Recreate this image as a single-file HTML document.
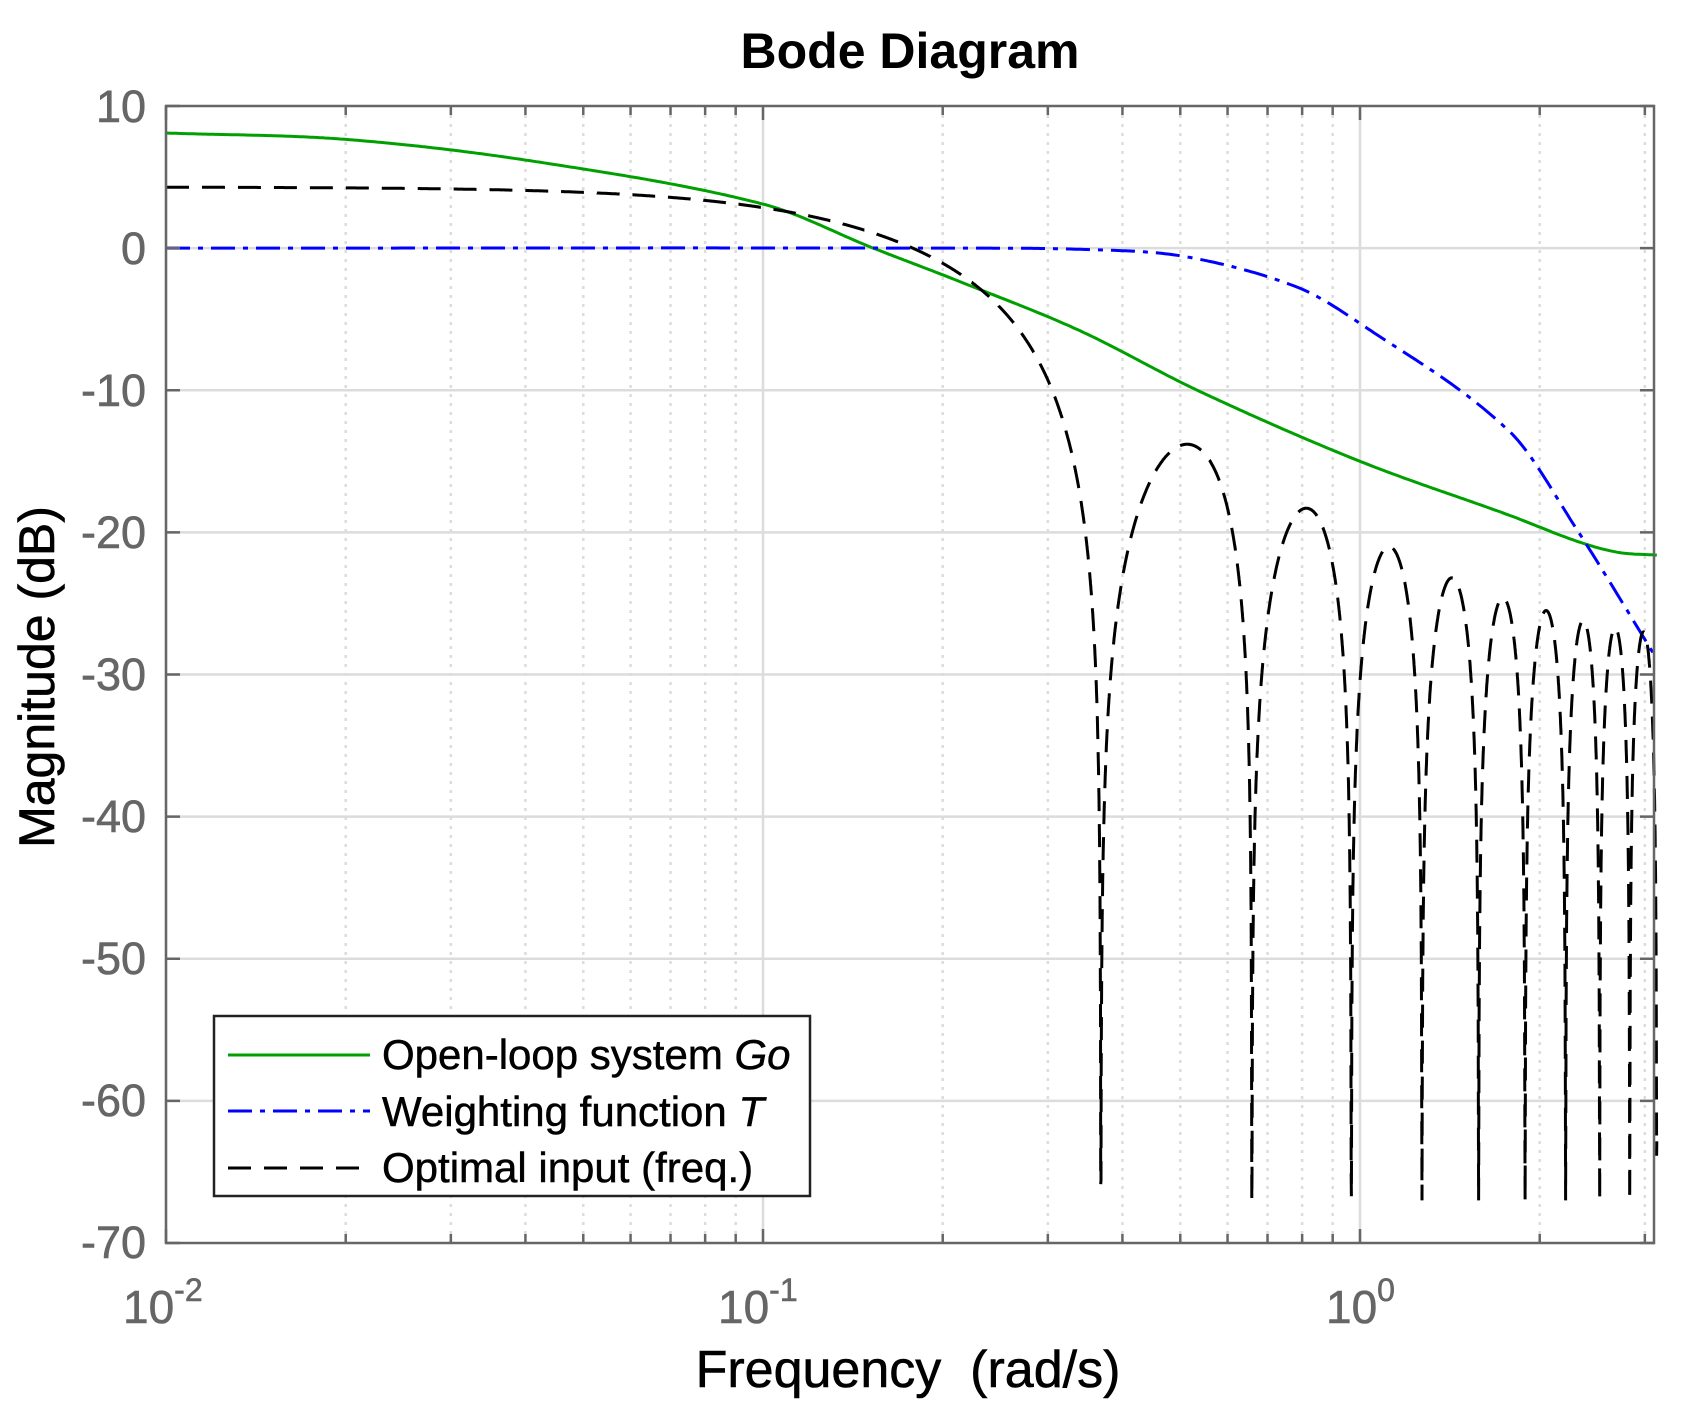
<!DOCTYPE html>
<html><head><meta charset="utf-8"><style>
html,body{margin:0;padding:0;background:#fff;}
svg{display:block;font-family:"Liberation Sans",Arial,sans-serif;}
</style></head><body>
<svg id="s" width="1691" height="1414" viewBox="0 0 1691 1414" xmlns="http://www.w3.org/2000/svg">
<rect width="1691" height="1414" fill="#fff"/>
<g id="grid"></g>
<g id="curves" fill="none"></g>
<rect x="166" y="106" width="1488" height="1137" fill="none" stroke="#666" stroke-width="2.5"/>
<g id="ticks" stroke="#666" stroke-width="2.5"></g>
<text x="910" y="68" font-size="50" font-weight="bold" text-anchor="middle" fill="#000">Bode Diagram</text>
<g font-size="45" fill="#666" text-anchor="end" stroke="#666" stroke-width="0.6">
<text x="146" y="122">10</text>
<text x="146" y="264">0</text>
<text x="146" y="406">-10</text>
<text x="146" y="548">-20</text>
<text x="146" y="690">-30</text>
<text x="146" y="832">-40</text>
<text x="146" y="974">-50</text>
<text x="146" y="1116">-60</text>
<text x="146" y="1258">-70</text>
</g>
<g font-size="46" fill="#666" stroke="#666" stroke-width="0.6">
<text x="123" y="1323">10<tspan font-size="32" dy="-22">-2</tspan></text>
<text x="718" y="1323">10<tspan font-size="32" dy="-22">-1</tspan></text>
<text x="1326" y="1323">10<tspan font-size="32" dy="-22">0</tspan></text>
</g>
<text x="908" y="1387" font-size="52" text-anchor="middle" fill="#000" stroke="#000" stroke-width="0.6" xml:space="preserve">Frequency  (rad/s)</text>
<text transform="translate(54,677) rotate(-90)" font-size="50" text-anchor="middle" fill="#000" stroke="#000" stroke-width="0.6">Magnitude (dB)</text>
<rect x="214" y="1016" width="596" height="180" fill="#fff" stroke="#222" stroke-width="2.5"/>
<line x1="228" y1="1055" x2="370" y2="1055" stroke="#00a000" stroke-width="3"/>
<line x1="228" y1="1111" x2="370" y2="1111" stroke="#0000ff" stroke-width="3" stroke-dasharray="24,8,5,8"/>
<line x1="228" y1="1168" x2="370" y2="1168" stroke="#000" stroke-width="3" stroke-dasharray="23,13"/>
<g font-size="42" fill="#000" stroke="#000" stroke-width="0.5">
<text x="382" y="1069">Open-loop system <tspan font-style="italic">Go</tspan></text>
<text x="382" y="1126">Weighting function <tspan font-style="italic">T</tspan></text>
<text x="382" y="1182">Optimal input (freq.)</text>
</g>
</svg>
<script>
const L=166,R=1654,T=106,B=1243,D=597;
const X=w=>L+(Math.log10(w)+2)*D;
const Y=db=>T+(10-db)*(B-T)/80;
const ns="http://www.w3.org/2000/svg";
function el(p,t,a){const e=document.createElementNS(ns,t);for(const k in a)e.setAttribute(k,a[k]);p.appendChild(e);return e;}
const g=document.getElementById('grid'),tk=document.getElementById('ticks');
for(let db=-60;db<=0;db+=10){el(g,'line',{x1:L,x2:R,y1:Y(db),y2:Y(db),stroke:'#dcdcdc','stroke-width':2.5});}
for(let db=-70;db<=10;db+=10){el(tk,'line',{x1:L,x2:L+14,y1:Y(db),y2:Y(db)});el(tk,'line',{x1:R-14,x2:R,y1:Y(db),y2:Y(db)});}
for(let e=-2;e<=0;e++)for(let m=1;m<=9;m++){const w=m*Math.pow(10,e);if(w>Math.PI)break;const x=X(w);
 if(m==1){el(g,'line',{x1:x,x2:x,y1:T,y2:B,stroke:'#dcdcdc','stroke-width':2.5});el(tk,'line',{x1:x,x2:x,y1:B-14,y2:B});el(tk,'line',{x1:x,x2:x,y1:T,y2:T+14});}
 else{el(g,'line',{x1:x,x2:x,y1:T,y2:B,stroke:'#dcdcdc','stroke-width':2.5,'stroke-dasharray':'3,6'});el(tk,'line',{x1:x,x2:x,y1:B-9,y2:B});el(tk,'line',{x1:x,x2:x,y1:T,y2:T+9});}
}
function interp(pts,w){const lw=Math.log10(w);const xs=pts.map(p=>Math.log10(p[0])),ys=pts.map(p=>p[1]);const n=xs.length;
 let i=0;while(i<n-2&&lw>xs[i+1])i++;
 const sl=k=>{if(k==0)return (ys[1]-ys[0])/(xs[1]-xs[0]);if(k==n-1)return (ys[n-1]-ys[n-2])/(xs[n-1]-xs[n-2]);return (ys[k+1]-ys[k-1])/(xs[k+1]-xs[k-1]);};
 const h=xs[i+1]-xs[i],t=Math.min(1,Math.max(0,(lw-xs[i])/h));
 const h00=2*t*t*t-3*t*t+1,h10=t*t*t-2*t*t+t,h01=-2*t*t*t+3*t*t,h11=t*t*t-t*t;
 return h00*ys[i]+h10*h*sl(i)+h01*ys[i+1]+h11*h*sl(i+1);}
const G=[[0.01,8.1],[0.02,7.65],[0.0422,6.05],[0.1,3.1],[0.153,0],[0.215,-2.4],[0.339,-5.8],[0.54,-10.1],[1,-15],[1.78,-18.8],[2.3,-20.6],[2.7,-21.4],[3.1416,-21.6]];
const Bl=[[0.01,0],[0.2,0],[0.35,-0.1],[0.51,-0.6],[0.78,-2.7],[1,-5.3],[1.78,-12.9],[2.3,-19.7],[3.1416,-28.9]];
const nulls=[0.368,0.659,0.967,1.27,1.58,1.89,2.21,2.52,2.83,3.14];
const peaks=[-13.8,-18.3,-21,-23.2,-24.6,-25.5,-26.2,-26.7,-27];
function K(w){let v;if(w<nulls[0]){const x=Math.PI*w/nulls[0];v=4.3+20*Math.log10(Math.abs(Math.sin(x)/x)+1e-9)-0.65*Math.pow(Math.sin(x),2);}
 else{let i=0;while(i<peaks.length-1&&w>nulls[i+1])i++;const a=nulls[i],b=nulls[i+1]||3.45;v=peaks[i]+20*Math.log10(Math.abs(Math.sin(Math.PI*(w-a)/(b-a)))+1e-9);}
 return Math.max(v,-67);}
function path(f,n){let d='';for(let i=0;i<=n;i++){const lw=-2+i/n*(Math.log10(Math.PI)+2);const w=Math.pow(10,lw);d+=(i?'L':'M')+X(w).toFixed(1)+','+Y(f(w)).toFixed(1);}return d;}
const c=document.getElementById('curves');
el(c,'path',{d:path(w=>interp(G,w),600),stroke:'#00a000','stroke-width':3});
el(c,'path',{d:path(w=>interp(Bl,w),600),stroke:'#0000ff','stroke-width':3,'stroke-dasharray':'24,8,5,8'});
el(c,'path',{d:path(K,6000),stroke:'#000','stroke-width':3,'stroke-dasharray':'23,13'});
</script>
</body></html>
